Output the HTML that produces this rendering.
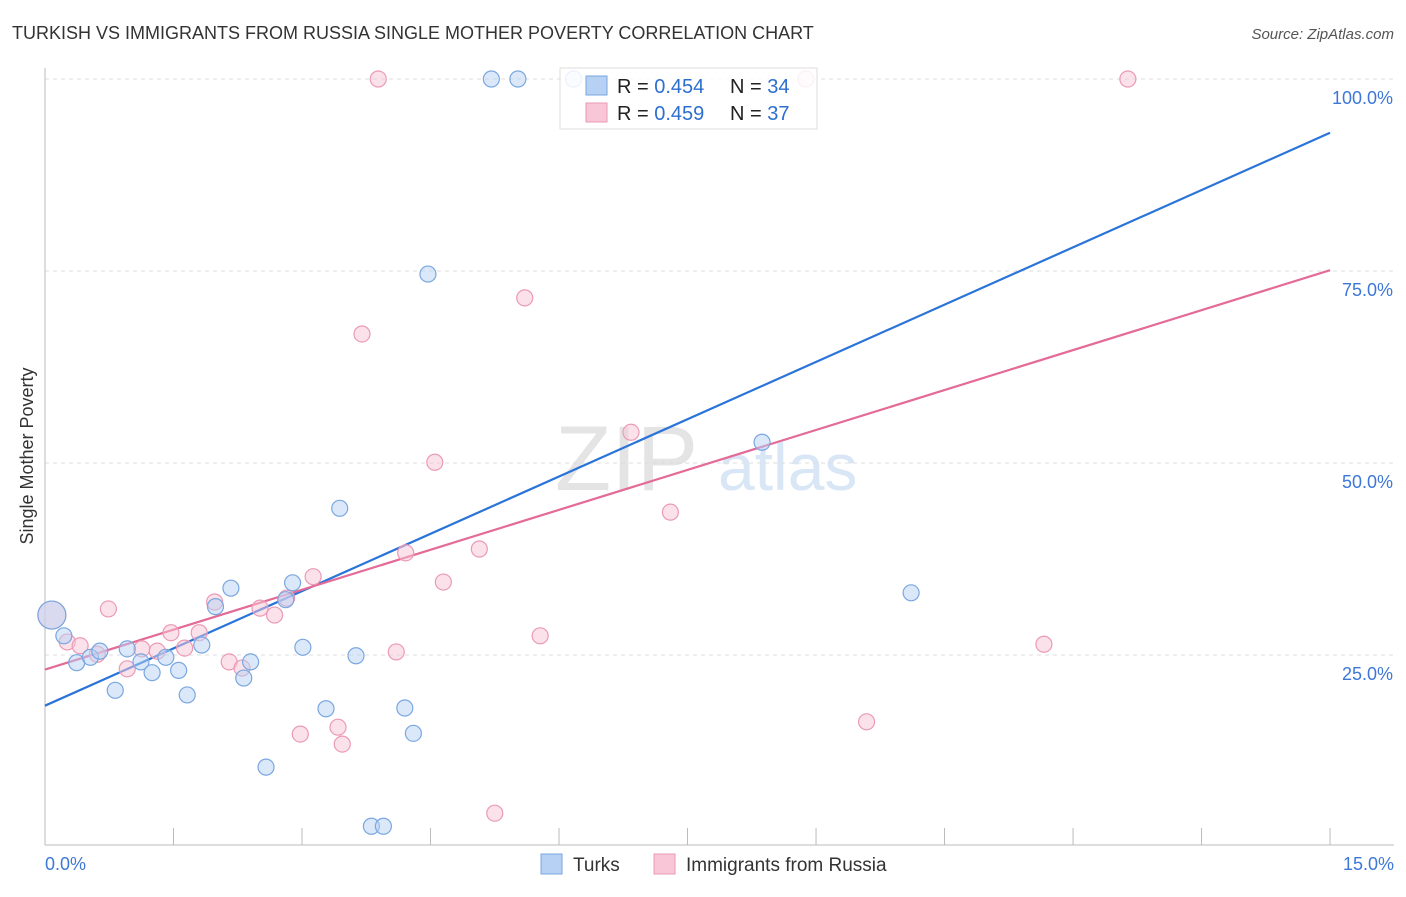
<!DOCTYPE html>
<html><head><meta charset="utf-8"><style>
body{margin:0;background:#fff;font-family:"Liberation Sans",sans-serif;}
svg text{font-family:"Liberation Sans",sans-serif;}
</style></head><body>
<svg id="chart" width="1406" height="892" xmlns="http://www.w3.org/2000/svg">
<text x="12" y="39" font-size="18" fill="#333">TURKISH VS IMMIGRANTS FROM RUSSIA SINGLE MOTHER POVERTY CORRELATION CHART</text>
<text x="1394" y="39" font-size="15" fill="#555" text-anchor="end" font-style="italic">Source: ZipAtlas.com</text>
<text x="33" y="456" font-size="18" fill="#333" text-anchor="middle" transform="rotate(-90 33 456)">Single Mother Poverty</text>
<g><text x="555" y="490" font-size="92" fill="#e4e4e4" font-family="Liberation Serif">ZIP</text><text x="718" y="490" font-size="66" fill="#d8e6f6">atlas</text></g>
<g id="grid"></g><g id="axes"></g><g id="lines"></g><g id="points"></g>
<g>
<rect x="560" y="68" width="257" height="61" fill="#fff" fill-opacity="0.85" stroke="#ddd"/>
<rect x="586" y="76" width="21" height="19" fill="#b7d1f5" stroke="#7aa7e0"/>
<rect x="586" y="103" width="21" height="19" fill="#f8c6d6" stroke="#eb9ab5"/>
<text x="617" y="93" font-size="20" fill="#222">R = <tspan fill="#2d6fd0">0.454</tspan></text>
<text x="730" y="93" font-size="20" fill="#222">N = <tspan fill="#2d6fd0">34</tspan></text>
<text x="617" y="120" font-size="20" fill="#222">R = <tspan fill="#2d6fd0">0.459</tspan></text>
<text x="730" y="120" font-size="20" fill="#222">N = <tspan fill="#2d6fd0">37</tspan></text>
</g>
<g>
<rect x="541" y="854" width="21" height="20" fill="#b7d1f5" stroke="#7aa7e0"/>
<text x="573" y="871" font-size="19" fill="#333">Turks</text>
<rect x="654" y="854" width="21" height="20" fill="#f8c6d6" stroke="#eb9ab5"/>
<text x="686" y="871" font-size="19" fill="#333">Immigrants from Russia</text>
</g>
</svg>
<script>
const turksX=[0.08,0.22,0.37,0.53,0.64,0.82,0.96,1.12,1.25,1.41,1.56,1.66,1.83,1.99,2.17,2.32,2.40,2.58,2.81,2.89,3.01,3.28,3.44,3.63,3.81,3.95,4.20,4.30,4.47,5.21,5.52,6.17,8.37,10.11];
const turksY=[30.2,27.5,24.0,24.7,25.5,20.4,25.8,24.1,22.7,24.7,23.0,19.8,26.3,31.3,33.7,22.0,24.1,10.4,32.2,34.4,26.0,18.0,44.1,24.9,2.7,2.7,18.1,14.8,74.6,100,100,100,52.7,33.1];
const russiaX=[0.08,0.26,0.41,0.61,0.74,0.96,1.13,1.31,1.47,1.63,1.80,1.98,2.15,2.30,2.51,2.68,2.82,2.98,3.13,3.42,3.47,3.70,3.89,4.10,4.21,4.55,4.65,5.07,5.25,5.60,5.78,6.84,7.30,8.88,9.59,11.66,12.64];
const russiaY=[30.2,26.7,26.2,25.1,31.0,23.2,25.8,25.5,27.9,25.9,27.9,31.9,24.1,23.3,31.1,30.2,32.4,14.7,35.2,15.6,13.4,66.8,100,25.4,38.3,50.1,34.5,38.8,4.4,71.5,27.5,54.0,43.6,100,16.3,26.4,100];
const turksTrend=[18.4,93.0];
const russiaTrend=[23.1,75.1];
const yTicks=[25,50,75,100];
const yTickLabels=["25.0%","50.0%","75.0%","100.0%"];
const xTickLabels=["0.0%","15.0%"];
const NS="http://www.w3.org/2000/svg";
const sx=v=>45+v*85.67, sy=v=>847-v*7.68;
function mk(tag,attrs,parent){const e=document.createElementNS(NS,tag);for(const k in attrs)e.setAttribute(k,attrs[k]);parent.appendChild(e);return e;}
const grid=document.getElementById('grid'),axes=document.getElementById('axes'),lines=document.getElementById('lines'),pts=document.getElementById('points');
yTicks.forEach((t,i)=>{
 const l=mk('line',{x1:45,x2:1394,y1:sy(t),y2:sy(t),stroke:'#ddd','stroke-dasharray':'4,4'},grid);
 
 
 const tx=mk('text',{x:1393,y:sy(t)+25,'font-size':18,fill:'#3d78d8','text-anchor':'end'},axes);
 tx.textContent=yTickLabels[i];
 
 
});
const ax=mk('line',{x1:45,x2:45,y1:68,y2:845,stroke:'#bbb'},axes);


const bx=mk('line',{x1:45,x2:1394,y1:845,y2:845,stroke:'#bbb'},axes);


for(let i=0;i<=10;i++){const v=i*1.5;const tk=mk('line',{x1:sx(v),x2:sx(v),y1:828,y2:845,stroke:'#bbb'},axes);
 
 }
const xl0=mk('text',{x:45,y:870,'font-size':18,fill:'#3d78d8'},axes);xl0.textContent=xTickLabels[0];


const xl1=mk('text',{x:1394,y:870,'font-size':18,fill:'#3d78d8','text-anchor':'end'},axes);xl1.textContent=xTickLabels[1];


function drawPts(X,Y,fill,stroke,name){X.forEach((x,i)=>{const c=mk('circle',{cx:sx(x),cy:sy(Y[i]),r:i===0?14:8,fill:fill,'fill-opacity':0.5,stroke:stroke,'stroke-width':1.2},pts);
 
 });}
drawPts(russiaX,russiaY,'#f8c6d6','#eb9ab5','russia');
drawPts(turksX,turksY,'#b7d1f5','#7aa7e0','turks');
const lb=mk('line',{x1:sx(0),y1:sy(turksTrend[0]),x2:sx(15),y2:sy(turksTrend[1]),stroke:'#2a74d9','stroke-width':2.2},lines);


const lp=mk('line',{x1:sx(0),y1:sy(russiaTrend[0]),x2:sx(15),y2:sy(russiaTrend[1]),stroke:'#e46a97','stroke-width':2.2},lines);


</script>
</body></html>
